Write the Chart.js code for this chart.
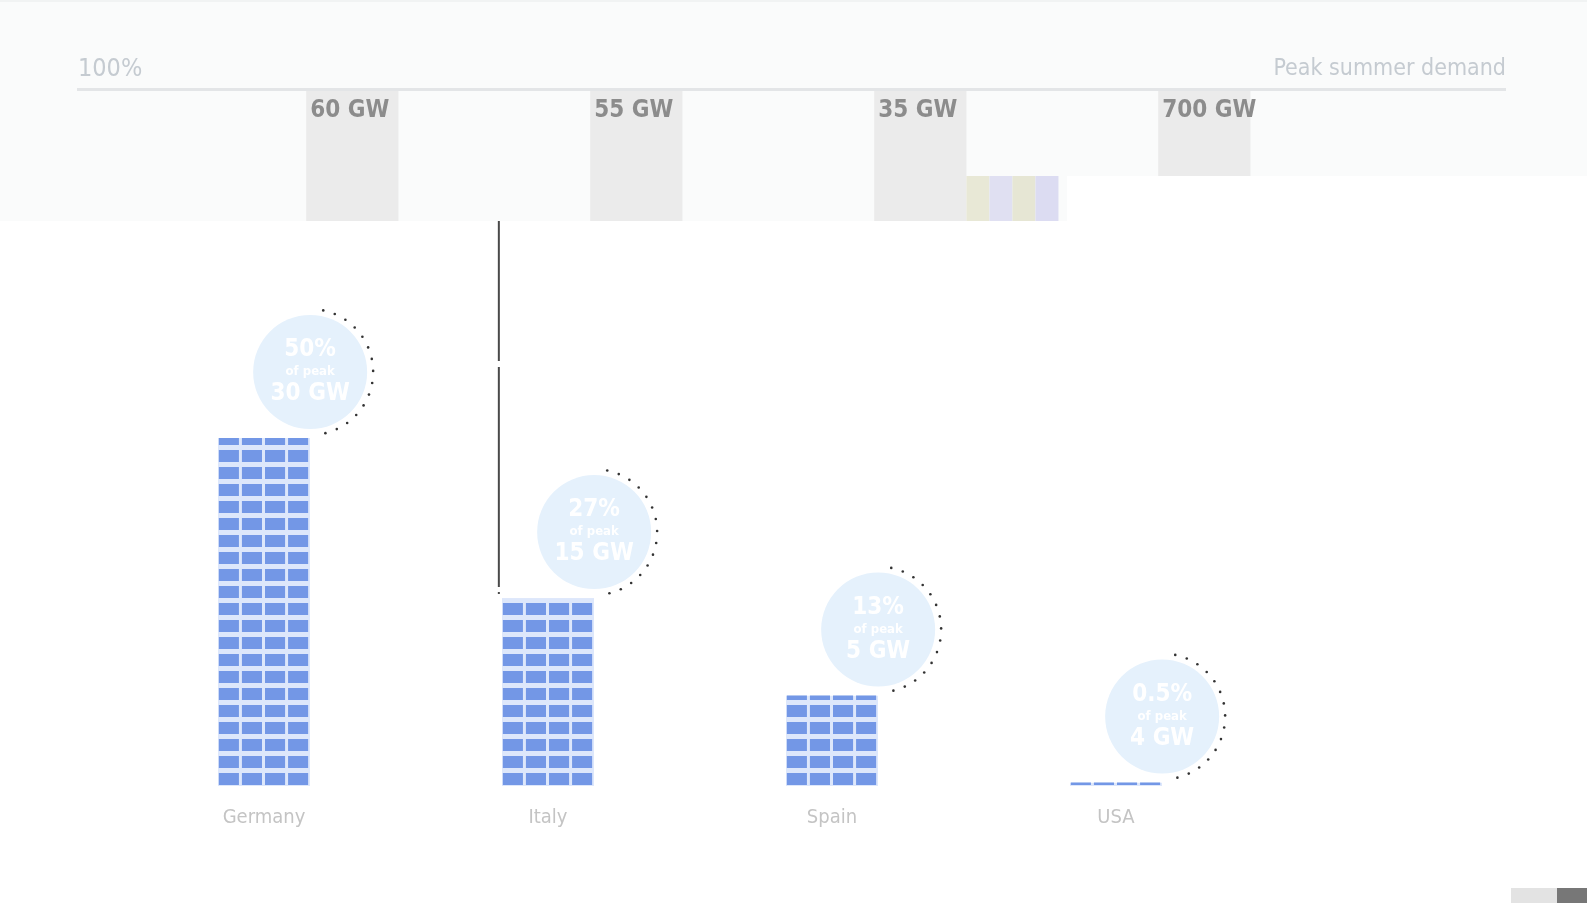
<!DOCTYPE html>
<html>
<head>
<meta charset="utf-8">
<script src="https://cdn.jsdelivr.net/npm/chart.js@4/dist/chart.umd.min.js"></script>
<style>
  html, body { margin: 0; padding: 0; background: #fff; }
  #wrap { width: 1587px; height: 910px; position: relative; }
</style>
</head>
<body>
<div id="wrap"><canvas id="solarChart" width="1587" height="910"></canvas></div>
<script>
// solar output as share of peak summer demand
var countries = ['Germany', 'Italy', 'Spain', 'USA'];
var sharePct = [50, 27, 13, 0.5];
var shareLabels = ['50%', '27%', '13%', '0.5%'];
var solarGW = ['30 GW', '15 GW', '5 GW', '4 GW'];
var peakDemand = ['60 GW', '55 GW', '35 GW', '700 GW'];

var condensed = '"DejaVu Sans Condensed", "DejaVu Sans", sans-serif';

// header band, 100% rule and the demand boxes above each column
var headerPlugin = {
  id: 'header',
  beforeDraw: function(chart) {
    var ctx = chart.ctx;
    var area = chart.chartArea;
    var bars = chart.getDatasetMeta(0).data;
    ctx.save();
    ctx.fillStyle = '#fafbfb';
    ctx.fillRect(0, 0, chart.width, 176);
    ctx.fillRect(0, 176, 1067, 45);
    ctx.fillStyle = '#f1f3f3';
    ctx.fillRect(0, 0, chart.width, 2);

    for (var i = 0; i < bars.length; i++) {
      var b = bars[i];
      var left = b.x + b.width / 2 - 4;
      var bottom = i === bars.length - 1 ? 176 : 221;
      ctx.fillStyle = '#ebebeb';
      ctx.fillRect(left, area.top + 1, b.width, bottom - area.top - 1);
      ctx.fillStyle = '#8c8c8c';
      ctx.font = 'bold 24px ' + condensed;
      ctx.textBaseline = 'middle';
      ctx.textAlign = 'left';
      ctx.fillText(peakDemand[i], left + 4, area.top + 21);
    }

    // striped patch next to the Spain box
    var sp = bars[2];
    var sx = sp.x + sp.width / 2 - 4 + sp.width;
    var stripes = ['#e8e8d6', '#e0e0f2', '#e6e6d4', '#dcdcf2'];
    for (var s = 0; s < 4; s++) {
      ctx.fillStyle = stripes[s];
      ctx.fillRect(sx + s * 23, 176, 23, 45);
    }

    // 100% rule
    ctx.fillStyle = '#e3e5e7';
    ctx.fillRect(77, area.top - 2, 1429, 3);
    ctx.fillStyle = '#c5cbd1';
    ctx.font = '25px ' + condensed;
    ctx.textBaseline = 'middle';
    ctx.textAlign = 'left';
    ctx.fillText('100%', 78, 69);
    ctx.textAlign = 'right';
    ctx.font = '23px ' + condensed;
    ctx.fillText('Peak summer demand', 1506, 69);

    // small block bottom right
    ctx.fillStyle = '#e3e3e3';
    ctx.fillRect(1511, 888, 46, 15);
    ctx.fillStyle = '#777';
    ctx.fillRect(1557, 888, 30, 15);
    ctx.restore();
  }
};

// panel tiles inside each bar, plus the share bubbles
var panelPlugin = {
  id: 'panels',
  afterDatasetsDraw: function(chart) {
    var ctx = chart.ctx;
    var bars = chart.getDatasetMeta(0).data;
    ctx.save();
    for (var i = 0; i < bars.length; i++) {
      var b = bars[i];
      var left = b.x - b.width / 2;
      var top = b.y;
      var h = b.base - b.y;
      ctx.save();
      ctx.beginPath();
      ctx.rect(left, top, b.width, h);
      ctx.clip();
      ctx.fillStyle = '#dde7fb';
      ctx.fillRect(left, top, b.width, h);
      var colW = b.width / 4;
      ctx.fillStyle = '#7397e6';
      for (var y = b.base; y > top - 17; y -= 17) {
        for (var c = 0; c < 4; c++) {
          ctx.fillRect(left + c * colW + 1, y - 13, colW - 3, 12);
        }
      }
      ctx.restore();

      // bubble
      var cx = b.x + b.width / 2;
      var cy = top - 66;
      var r = 57;
      ctx.fillStyle = '#e5f1fc';
      ctx.beginPath();
      ctx.arc(cx, cy, r, 0, Math.PI * 2);
      ctx.fill();
      ctx.fillStyle = '#ffffff';
      ctx.textAlign = 'center';
      ctx.textBaseline = 'middle';
      ctx.font = 'bold 24px ' + condensed;
      ctx.fillText(shareLabels[i], cx, cy - 22);
      ctx.font = 'bold 13px ' + condensed;
      ctx.fillText('of peak', cx, cy);
      ctx.font = 'bold 24px ' + condensed;
      ctx.fillText(solarGW[i], cx, cy + 22);

      // dotted arc on the right side
      ctx.fillStyle = '#333';
      for (var a = -78; a <= 80; a += 11) {
        var rad = a * Math.PI / 180;
        ctx.beginPath();
        ctx.arc(cx + Math.cos(rad) * (r + 6), cy + Math.sin(rad) * (r + 6), 1.3, 0, Math.PI * 2);
        ctx.fill();
      }
    }

    // leader line beside Italy
    var it = bars[1];
    ctx.strokeStyle = '#4a4a4a';
    ctx.lineWidth = 2;
    ctx.setLineDash([140, 6, 220, 5]);
    ctx.beginPath();
    ctx.moveTo(it.x - it.width / 2 - 3, 221);
    ctx.lineTo(it.x - it.width / 2 - 3, it.y - 4);
    ctx.stroke();
    ctx.restore();
  }
};

var ctx = document.getElementById('solarChart').getContext('2d');
var chart = new Chart(ctx, {
  type: 'bar',
  data: {
    labels: countries,
    datasets: [{
      label: 'Share of peak summer demand',
      data: sharePct,
      backgroundColor: 'rgba(0,0,0,0)',
      borderWidth: 0,
      categoryPercentage: 1,
      barPercentage: 0.325
    }]
  },
  options: {
    responsive: false,
    animation: false,
    layout: { padding: { left: 122, right: 329, top: 90, bottom: 68 } },
    plugins: { legend: { display: false }, tooltip: { enabled: false } },
    scales: {
      y: { display: false, min: 0, max: 100 },
      x: {
        grid: { display: false },
        border: { display: false },
        ticks: {
          color: '#c4c4c4',
          padding: 12,
          font: { family: '"DejaVu Sans Condensed", sans-serif', size: 20 }
        }
      }
    }
  },
  plugins: [headerPlugin, panelPlugin]
});
</script>
</body>
</html>
